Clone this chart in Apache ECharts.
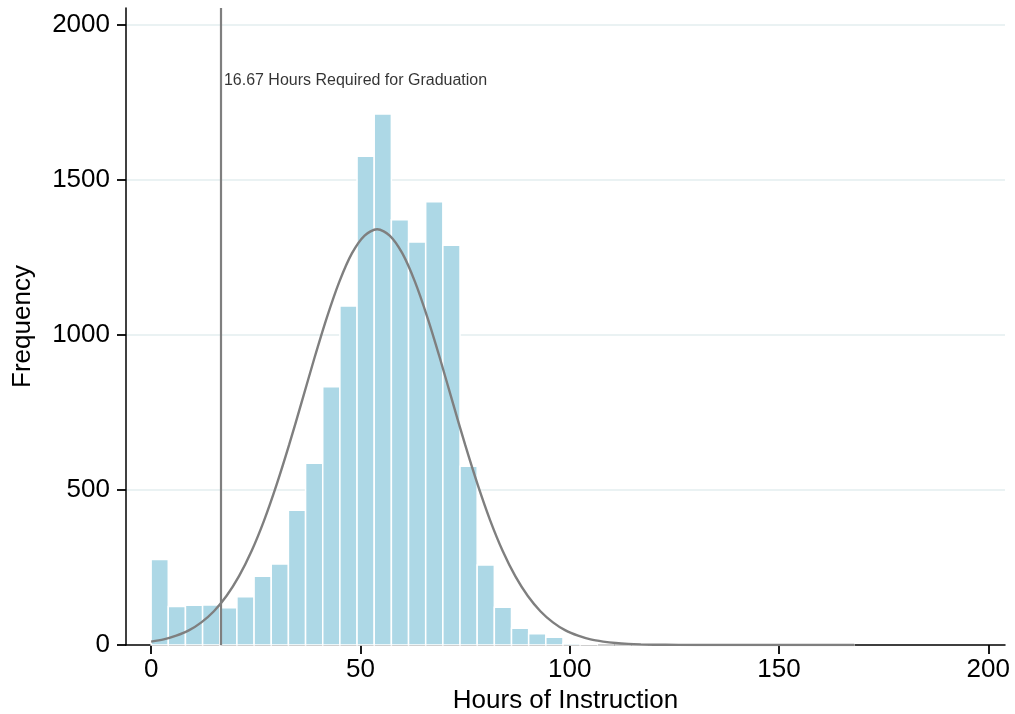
<!DOCTYPE html>
<html>
<head>
<meta charset="utf-8">
<script src="https://cdn.jsdelivr.net/npm/echarts@6/dist/echarts.min.js"></script>
<style>
  html, body { margin: 0; padding: 0; background: #fff; }
  #main { width: 1015px; height: 714px; }
</style>
</head>
<body>
<div id="main"></div>
<script>
// histogram bins (width 4.1 hours, starting at 0)
var binStart = 0;
var binWidth = 4.1;
var binCounts = [276, 124, 128, 129, 120, 156, 222, 261, 435, 586,
                 833, 1094, 1577, 1713, 1372, 1300, 1430, 1290, 577, 258,
                 122, 54, 36, 25, 6, 3, 0, 0, 0, 0,
                 0, 0, 0, 0, 0, 0, 0, 0, 0, 0, 0];

// fitted normal curve (every 3 hours)
var curveX = [0, 3, 6, 9, 12, 15, 18, 21, 24, 27, 30, 33, 36, 39, 42, 45, 48, 51, 54,
              57, 60, 63, 66, 69, 72, 75, 78, 81, 84, 87, 90, 93, 96, 99, 102, 105, 108,
              111, 114, 117, 120, 126, 135, 150, 168];
var curveY = [11, 18, 30, 47, 73, 109, 158, 222, 303, 402, 518, 647, 785, 925, 1057, 1173, 1264, 1321, 1341,
              1321, 1264, 1173, 1057, 925, 785, 647, 518, 402, 303, 222, 158, 109, 73, 47, 30, 18, 11,
              6.3, 3.5, 1.9, 1, 0.3, 0, 0, 0];

// axis ticks
var xTicks = [0, 50, 100, 150, 200];
var yTicks = [0, 500, 1000, 1500, 2000];
var gridValues = [500, 1000, 1500, 2000];

// reference line
var requiredHours = 16.67;
var requiredLabel = '16.67 Hours Required for Graduation';
var requiredLabelY = 1820;

var font = 'Liberation Sans, Arial, Helvetica, sans-serif';

var chart = echarts.init(document.getElementById('main'));

var barData = binCounts.map(function (c, i) {
  return [binStart + i * binWidth, binStart + (i + 1) * binWidth, c];
});
var curveData = curveX.map(function (x, i) { return [x, curveY[i]]; });

var option = {
  animation: false,
  backgroundColor: '#fff',
  grid: { left: 126, right: 10, top: 8, bottom: 69, containLabel: false, outerBoundsMode: 'none' },
  xAxis: {
    type: 'value',
    min: -6,
    max: 204,
    name: 'Hours of Instruction',
    nameLocation: 'middle',
    nameGap: 40,
    nameTextStyle: { fontSize: 26, color: '#000', fontFamily: font },
    axisLine: { show: true, onZero: false, lineStyle: { color: '#000', width: 1.5 } },
    axisTick: { show: true, length: 9, customValues: xTicks, lineStyle: { color: '#000', width: 1.8 } },
    axisLabel: { customValues: xTicks, fontSize: 26, color: '#000', fontFamily: font, margin: 12,
                 formatter: function (v) { return String(v); } },
    splitLine: { show: false }
  },
  yAxis: {
    type: 'value',
    min: 0,
    max: 2055,
    name: 'Frequency',
    nameLocation: 'middle',
    nameGap: 90,
    nameRotate: 90,
    nameTextStyle: { fontSize: 26, color: '#000', fontFamily: font },
    axisLine: { show: true, onZero: false, lineStyle: { color: '#000', width: 1.5 } },
    axisTick: { show: true, length: 9, customValues: yTicks, lineStyle: { color: '#000', width: 1.8 } },
    axisLabel: { customValues: yTicks, fontSize: 26, color: '#000', fontFamily: font, margin: 16,
                 formatter: function (v) { return String(v); } },
    splitLine: { show: false }
  },
  series: [
    {
      // horizontal grid lines
      type: 'line',
      data: [],
      z: 0,
      silent: true,
      markLine: {
        z: 0,
        silent: true,
        symbol: 'none',
        label: { show: false },
        lineStyle: { color: '#eaf2f3', width: 2, type: 'solid' },
        data: gridValues.map(function (v) { return { yAxis: v }; })
      }
    },
    {
      type: 'custom',
      z: 2,
      silent: true,
      data: barData,
      renderItem: function (params, api) {
        var p0 = api.coord([api.value(0), api.value(2)]);
        var p1 = api.coord([api.value(1), 0]);
        return {
          type: 'rect',
          shape: { x: p0[0], y: p0[1], width: p1[0] - p0[0], height: p1[1] - p0[1] },
          style: { fill: '#add8e6', stroke: '#fff', lineWidth: 1.5 }
        };
      }
    },
    {
      type: 'line',
      z: 3,
      data: curveData,
      smooth: 0.3,
      showSymbol: false,
      lineStyle: { color: '#7f7f7f', width: 2.4 }
    },
    {
      type: 'scatter',
      z: 4,
      symbolSize: 0,
      data: [[requiredHours, requiredLabelY]],
      label: {
        show: true,
        position: 'right',
        distance: 3,
        formatter: requiredLabel,
        fontSize: 16,
        color: '#000',
        fontFamily: font
      },
      markLine: {
        silent: true,
        symbol: 'none',
        label: { show: false },
        lineStyle: { color: '#7f7f7f', width: 2.2, type: 'solid' },
        data: [{ xAxis: requiredHours }]
      }
    }
  ]
};

chart.setOption(option);
</script>
</body>
</html>
